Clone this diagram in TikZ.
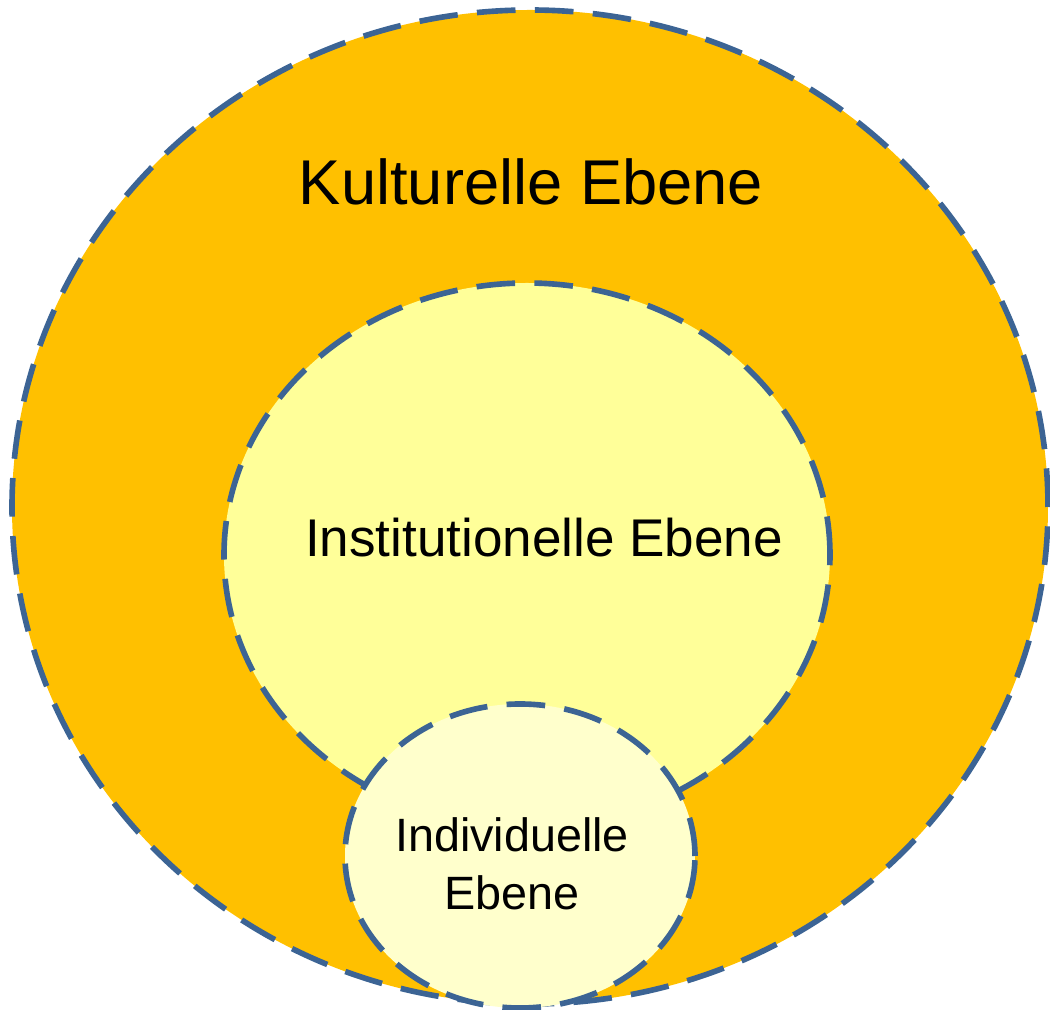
\documentclass[tikz,border=0pt]{standalone}
\usepackage{fontspec}
\setmainfont{Liberation Sans}
\definecolor{kult}{HTML}{FFC000}
\definecolor{inst}{HTML}{FFFF99}
\definecolor{indiv}{HTML}{FFFFCC}
\definecolor{rim}{HTML}{3C6494}
\begin{document}
\begin{tikzpicture}[
  ring/.style={draw=rim, line width=1.6pt, dash pattern=on 11pt off 5.5pt},
  lbl/.style={anchor=base, inner sep=0pt, text=black}
]
\useasboundingbox (0,0) rectangle (10.5,10.1);
\fill[white] (0,0) rectangle (10.5,10.1);
\path[ring, fill=kult] (5.30,5.03) ellipse [x radius=5.18, y radius=4.97];
\path[ring, fill=inst] (5.27,4.55) ellipse [x radius=3.03, y radius=2.72];
\path[ring, fill=indiv] (5.20,1.54) ellipse [x radius=1.75, y radius=1.52];
\node[lbl, font=\fontsize{18}{22}\selectfont] (kul) at (5.31,8.05) {Kulturelle Ebene};
\node[lbl, font=\fontsize{15.1}{18}\selectfont] (ins) at (5.44,4.53) {Institutionelle Ebene};
\node[lbl, font=\fontsize{13.3}{16}\selectfont] (ind1) at (5.12,1.58) {Individuelle};
\node[lbl, font=\fontsize{13.3}{16}\selectfont] (ind2) at (5.12,1.00) {Ebene};
\end{tikzpicture}
\end{document}
